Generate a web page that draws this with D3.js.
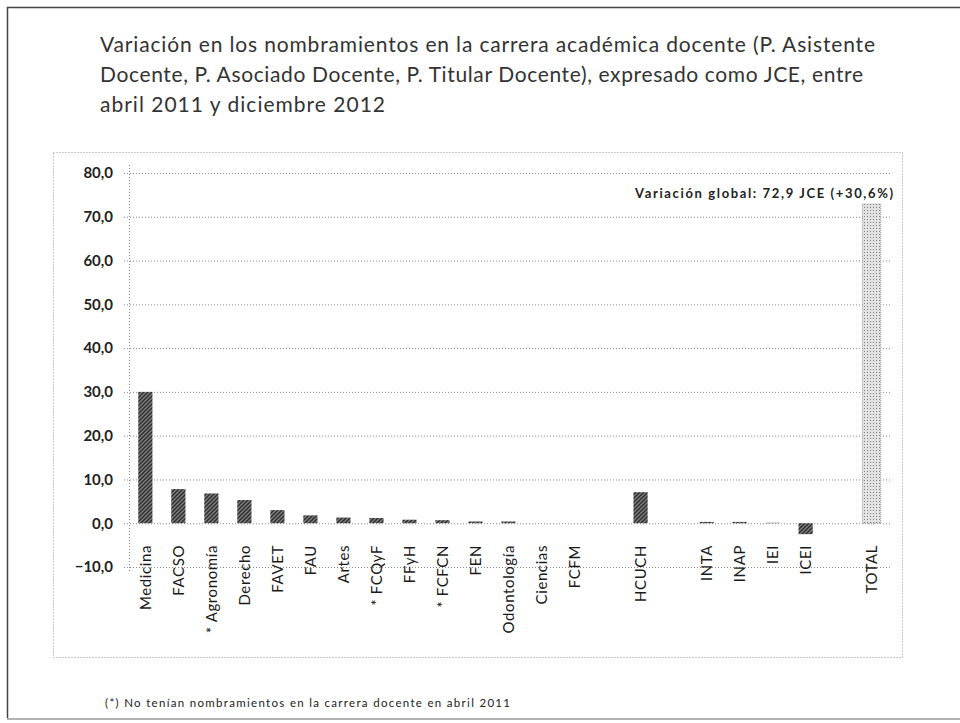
<!DOCTYPE html>
<html>
<head>
<meta charset="utf-8">
<script src="https://cdn.jsdelivr.net/npm/d3@7"></script>
<style>
  body { margin: 0; background: #fff; }
  svg text { font-family: Lato, "Open Sans", sans-serif; }
  .title { fill: #333; font-size: 21px; }
  .ylab { fill: #222; font-size: 15px; font-weight: bold; }
  .xlab { fill: #1a1a1a; font-size: 15px; letter-spacing: 0.6px; }
  .note { fill: #222; font-size: 13px; font-weight: bold; }
  .foot { fill: #222; font-size: 11.5px; }
</style>
</head>
<body>
<div id="chart"></div>
<script>
// data ===============================================
let categories = ["Medicina", "FACSO", "* Agronomía", "Derecho", "FAVET", "FAU", "Artes", "* FCQyF",
  "FFyH", "* FCFCN", "FEN", "Odontología", "Ciencias", "FCFM", "", "HCUCH", "", "INTA", "INAP",
  "IEI", "ICEI", "", "TOTAL"];
let values = [30.0, 7.8, 6.8, 5.3, 3.0, 1.8, 1.3, 1.2, 0.8, 0.7, 0.4, 0.4, 0.0, 0.0, null, 7.1, null,
  0.3, 0.3, 0.1, -2.5, null, 72.9];
let yTicks = [-10, 0, 10, 20, 30, 40, 50, 60, 70, 80];
let titleLines = [
  "Variación en los nombramientos en la carrera académica docente (P. Asistente",
  "Docente, P. Asociado Docente, P. Titular Docente), expresado como JCE, entre",
  "abril 2011 y diciembre 2012"
];
let titleWidths = [775, 763, 285];
let note = "Variación global: 72,9 JCE (+30,6%)";
let footnote = "(*) No tenían nombramientos en la carrera docente en abril 2011";

let width = 960, height = 723;

let svg = d3.select("#chart").append("svg")
  .attr("width", width)
  .attr("height", height);

// patterns for the scanned bars
let defs = svg.append("defs");
let hatch = defs.append("pattern")
  .attr("id", "hatch")
  .attr("patternUnits", "userSpaceOnUse")
  .attr("width", 4).attr("height", 4);
hatch.append("rect").attr("width", 4).attr("height", 4).attr("fill", "#7d7d7d");
hatch.append("path").attr("d", "M-1,1 l2,-2 M0,4 l4,-4 M3,5 l2,-2")
  .attr("stroke", "#2a2a2a").attr("stroke-width", 1.3);

let dots = defs.append("pattern")
  .attr("id", "dots")
  .attr("patternUnits", "userSpaceOnUse")
  .attr("width", 3).attr("height", 3);
dots.append("rect").attr("width", 3).attr("height", 3).attr("fill", "#e2e2e2");
dots.append("rect").attr("width", 1).attr("height", 1).attr("fill", "#808080");

// page frame
svg.append("path")
  .attr("d", "M7.5,718 V7.5 H960")
  .attr("fill", "none")
  .attr("stroke", "#444")
  .attr("stroke-width", 1.5);
svg.append("line")
  .attr("x1", 7).attr("x2", 960).attr("y1", 719).attr("y2", 719)
  .attr("stroke", "#999").attr("stroke-width", 1.5);

// title
svg.append("g").selectAll("text")
  .data(titleLines)
  .enter()
  .append("text")
  .attr("class", "title")
  .attr("x", 100)
  .attr("y", (d, i) => 52 + i * 30)
  .attr("textLength", (d, i) => titleWidths[i])
  .attr("lengthAdjust", "spacing")
  .text(d => d);

// chart frame
svg.append("rect")
  .attr("x", 53.5).attr("y", 152.5)
  .attr("width", 849).attr("height", 505)
  .attr("fill", "none")
  .attr("stroke", "#999")
  .attr("stroke-dasharray", "1,2");

// scales ===============================================
let x = d3.scaleBand()
  .domain(categories.map((d, i) => i))
  .range([129, 888])
  .paddingInner(0.57)
  .paddingOuter(0.28);

let y = d3.scaleLinear()
  .domain([-10, 80])
  .range([567, 173]);

// grid + y axis
let yAxis = d3.axisLeft(y)
  .tickValues(yTicks)
  .tickSize(-(890 - 129))
  .tickPadding(16)
  .tickFormat(d => d3.format(".1f")(d).replace(".", ","));

let gy = svg.append("g")
  .attr("transform", "translate(129,0)")
  .call(yAxis);
gy.select(".domain").remove();
gy.selectAll(".tick line")
  .attr("x1", -5)
  .attr("stroke", "#8c8c8c")
  .attr("stroke-dasharray", "1,2");
gy.selectAll(".tick text")
  .attr("class", "ylab")
  .attr("fill", null)
  .attr("font-family", null)
  .attr("font-size", null);

svg.append("line")
  .attr("x1", 129.5).attr("x2", 129.5)
  .attr("y1", y(80) - 8).attr("y2", y(-10) + 6)
  .attr("stroke", "#888")
  .attr("stroke-dasharray", "1,2");

// bars
let bars = categories.map((c, i) => ({ i: i, c: c, v: values[i] }))
  .filter(d => d.v !== null);

svg.append("g").selectAll("rect")
  .data(bars)
  .enter()
  .append("rect")
  .attr("x", d => d.c === "TOTAL" ? x(d.i) - 2 : x(d.i))
  .attr("width", d => d.c === "TOTAL" ? x.bandwidth() + 4 : x.bandwidth())
  .attr("y", d => y(Math.max(0, d.v)))
  .attr("height", d => Math.abs(y(d.v) - y(0)))
  .attr("fill", d => d.c === "TOTAL" ? "url(#dots)" : "url(#hatch)")
  .attr("stroke", d => d.c === "TOTAL" ? "#999" : "none")
  .attr("stroke-dasharray", "1,1");

// category labels
svg.append("g").selectAll("text")
  .data(categories.map((c, i) => ({ i: i, c: c })).filter(d => d.c !== ""))
  .enter()
  .append("text")
  .attr("class", "xlab")
  .attr("text-anchor", "end")
  .attr("dy", "0.35em")
  .attr("transform", d => "translate(" + (x(d.i) + x.bandwidth() / 2) + ",545) rotate(-90)")
  .text(d => d.c);

// note + footnote
svg.append("text")
  .attr("class", "note")
  .attr("x", 893)
  .attr("y", 198)
  .attr("text-anchor", "end")
  .attr("textLength", 258)
  .attr("lengthAdjust", "spacing")
  .text(note);

svg.append("text")
  .attr("class", "foot")
  .attr("x", 105)
  .attr("y", 707)
  .attr("textLength", 405)
  .attr("lengthAdjust", "spacing")
  .text(footnote);
</script>
</body>
</html>
